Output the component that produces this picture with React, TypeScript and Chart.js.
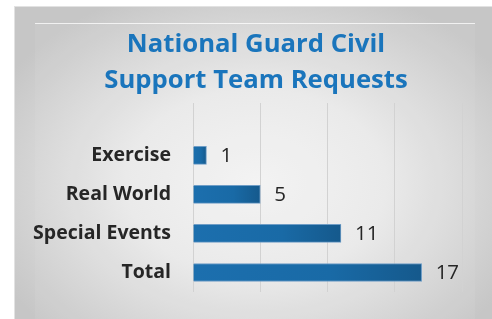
import React, { useEffect, useRef } from "react";
import { Chart, registerables } from "chart.js";

Chart.register(...registerables);

const titleLines = ["National Guard Civil", "Support Team Requests"];
const categories = ["Exercise", "Real World", "Special Events", "Total"];
const values = [1, 5, 11, 17];
const xTicks = [0, 5, 10, 15, 20];

const Y_MIN = -1.34;
const Y_MAX = 3.5;

const valueLabelPlugin = {
  id: "valueLabels",
  afterLayout(chart: any) {
    const tb = chart.titleBlock;
    if (tb) {
      tb.left = 35;
      tb.right = chart.width - 35;
    }
  },
  afterDatasetsDraw(chart: any) {
    const ctx = chart.ctx;
    const meta = chart.getDatasetMeta(0);
    ctx.save();
    ctx.font = "400 20.5px 'Open Sans'";
    ctx.fillStyle = "#262626";
    ctx.textAlign = "left";
    ctx.textBaseline = "middle";
    meta.data.forEach((el: any, i: number) => {
      ctx.fillText(String(values[i]), el.x + 14, el.y + 1);
    });
    ctx.restore();
  },
};

export default function App() {
  const ref = useRef<HTMLCanvasElement | null>(null);
  useEffect(() => {
    document.body.style.overflow = "hidden";
    const canvas = ref.current!;
    const chart = new Chart(canvas, {
      type: "bar",
      data: {
        datasets: [
          {
            data: values.map((v, i) => ({ x: v, y: i })),
            barThickness: 18,
            borderWidth: 1,
            borderColor: "#6f9dc6",
            backgroundColor: (c: any) => {
              const ch = c.chart;
              const xs = ch.scales && ch.scales.x;
              if (!xs || c.type !== "data" || !c.parsed) return "#1a6aa8";
              const x0 = xs.getPixelForValue(0);
              const x1 = xs.getPixelForValue(c.parsed.x);
              if (!isFinite(x0) || !isFinite(x1) || x1 <= x0) return "#1a6aa8";
              const g = ch.ctx.createLinearGradient(x0, 0, x1, 0);
              g.addColorStop(0, "#1c6fae");
              g.addColorStop(0.6, "#196aa6");
              g.addColorStop(1, "#15598c");
              return g;
            },
          },
        ],
      },
      options: {
        indexAxis: "y",
        animation: false,
        responsive: true,
        maintainAspectRatio: false,
        layout: { padding: { left: 0, right: 35, top: 0, bottom: 35 } },
        plugins: {
          legend: { display: false },
          tooltip: { enabled: false },
          title: {
            display: true,
            text: titleLines,
            color: "#1a75bc",
            font: { family: "'Open Sans'", size: 25.7, weight: "bold", lineHeight: 1.42 },
            padding: { top: 19, bottom: 4 },
          },
        },
        scales: {
          x: {
            type: "linear",
            min: 0,
            max: 20,
            afterBuildTicks: (s: any) => {
              s.ticks = xTicks.map((v) => ({ value: v }));
            },
            ticks: { display: false },
            grid: { color: "#d2d2d2", lineWidth: 1, drawTicks: false },
            border: { display: false },
          },
          y: {
            type: "linear",
            reverse: true,
            offset: false,
            bounds: "data",
            min: Y_MIN,
            max: Y_MAX,
            afterBuildTicks: (s: any) => {
              s.ticks = categories.map((_, i) => ({ value: i }));
              s.min = Y_MIN;
              s.max = Y_MAX;
            },
            afterFit: (s: any) => {
              s.width = 178;
            },
            ticks: {
              padding: 22,
              color: "#262626",
              font: { family: "'Open Sans'", size: 19.5, weight: "bold" },
              callback: (v: any) => categories[v] ?? "",
            },
            grid: { display: false, drawTicks: false, offset: false },
            border: { display: false },
          },
        },
      },
      plugins: [valueLabelPlugin],
    });
    return () => chart.destroy();
  }, []);

  return (
    <div
      style={{
        position: "fixed",
        left: 14,
        top: 6,
        width: 482,
        height: 320,
        background:
          "radial-gradient(ellipse 60% 65% at 50% 55%, #f3f3f3 0%, #e9e9e9 45%, #d3d3d3 80%, #c6c6c6 100%)",
        borderLeft: "1px solid #e2e2e2",
        borderTop: "1px solid #e2e2e2",
        overflow: "hidden",
      }}
    >
      <div
        style={{
          position: "absolute",
          left: 20,
          top: 16,
          width: 440,
          height: 1,
          background: "rgba(255,255,255,0.75)",
        }}
      />
      <div
        style={{
          position: "absolute",
          left: 20,
          top: 17,
          width: 440,
          height: 300,
          background: "rgba(255,255,255,0.06)",
        }}
      />
      <div style={{ position: "absolute", left: 0, top: 0, width: 482, height: 320 }}>
        <canvas ref={ref} />
      </div>
    </div>
  );
}
